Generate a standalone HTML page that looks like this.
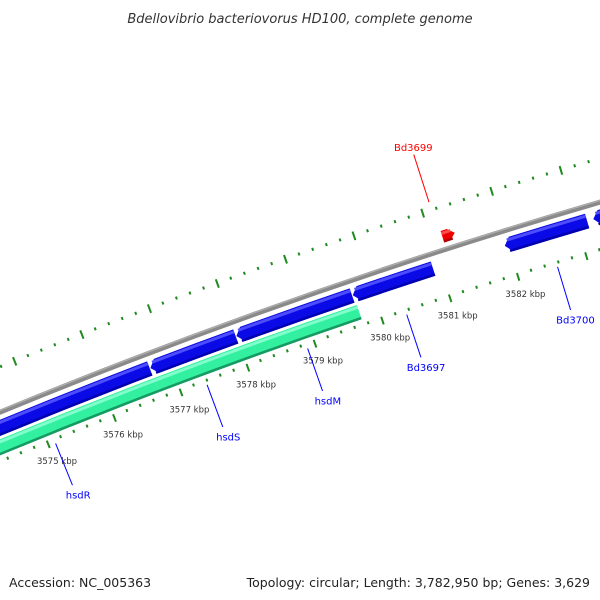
<!DOCTYPE html>
<html><head><meta charset="utf-8"><style>
body{margin:0;background:#fff}
svg{display:block;font-family:"DejaVu Sans","Liberation Sans",sans-serif}
</style></head><body>
<svg id="map" width="600" height="600" viewBox="0 0 600 600">
<text x="300" y="23" text-anchor="middle" font-size="13" font-style="italic" fill="#333">Bdellovibrio bacteriovorus HD100, complete genome</text>
<g id="plot"></g>
<text x="9" y="587" font-size="12.5" fill="#222">Accession: NC_005363</text>
<text x="590" y="587" text-anchor="end" font-size="12.5" fill="#222">Topology: circular; Length: 3,782,950 bp; Genes: 3,629</text>
</svg>
<script>
// data (kbp)
const geneNames = ["gene-left","hsdS-gene","hsdM-gene","Bd3697","Bd3700","gene-right","hsdR-fwd","hsdS-fwd","Bd3699"];
const geneStarts = [3573.0,3576.72,3578.0,3579.72,3581.95,3583.24,3573.0,3576.72,3581.16];
const geneEnds   = [3576.71,3577.99,3579.71,3580.90,3583.15,3585.0,3576.72,3579.73,3581.34];
const geneLane   = ["blue","blue","blue","blue","blue","blue","green","green","red"];
const geneArrow  = ["none","left","left","left","left","left","none","none","right"];
const tickStart = 3573, tickEnd = 3585, tickStep = 0.2;
const tickLabelKbp = [3575,3576,3577,3578,3579,3580,3581,3582];
const calloutNames = ["hsdR","hsdS","hsdM","Bd3697","Bd3700","Bd3699"];
const calloutKbp = [3575.1,3577.38,3578.88,3580.35,3582.57,3581.13];
const calloutColor = ["#0000ff","#0000ff","#0000ff","#0000ff","#0000ff","#ff0000"];
const calloutSide = ["in","in","in","in","in","out"];

const CX=2263, CY=5915, K0=3575, A0=-112.04, DEG=0.692;
const NS="http://www.w3.org/2000/svg";
const plot=document.getElementById('plot');
function ang(k){return (A0+(k-K0)*DEG)*Math.PI/180;}
function pt(k,r){const a=ang(k);return [CX+r*Math.cos(a),CY+r*Math.sin(a)];}
function f(p){return p[0].toFixed(2)+","+p[1].toFixed(2);}
function mk(tag,attrs){const e=document.createElementNS(NS,tag);for(const k in attrs)e.setAttribute(k,attrs[k]);plot.appendChild(e);return e;}
function band(k1,k2,r1,r2){
  const a=pt(k1,r2),b=pt(k2,r2),c=pt(k2,r1),d=pt(k1,r1);
  return "M"+f(a)+" A"+r2+","+r2+" 0 0 1 "+f(b)+" L"+f(c)+" A"+r1+","+r1+" 0 0 0 "+f(d)+"Z";
}
function arcLine(k1,k2,r){return "M"+f(pt(k1,r))+" A"+r+","+r+" 0 0 1 "+f(pt(k2,r));}
function feature(k1,k2,r1,r2,arrow){
  const head=0.09, mid=(r1+r2)/2;
  if(arrow==="left"){
    const a=pt(k1+head,r2),b=pt(k2,r2),c=pt(k2,r1),d=pt(k1+head,r1),t=pt(k1,mid);
    return "M"+f(t)+" L"+f(a)+" A"+r2+","+r2+" 0 0 1 "+f(b)+" L"+f(c)+" A"+r1+","+r1+" 0 0 0 "+f(d)+"Z";
  }
  if(arrow==="right"){
    const a=pt(k1,r2),b=pt(k2-head,r2),t=pt(k2,mid),c=pt(k2-head,r1),d=pt(k1,r1);
    return "M"+f(a)+" A"+r2+","+r2+" 0 0 1 "+f(b)+" L"+f(t)+" L"+f(c)+" A"+r1+","+r1+" 0 0 0 "+f(d)+"Z";
  }
  return band(k1,k2,r1,r2);
}
// ticks
const nT=Math.round((tickEnd-tickStart)/tickStep);
for(let i=0;i<=nT;i++){
  const k=tickStart+i*tickStep, major=(i%5===0);
  const u1=pt(k,major?5996:5993.5), u2=pt(k,major?5987:5990.5);
  const t=mk('line',{x1:u1[0],y1:u1[1],x2:u2[0],y2:u2[1],stroke:"#1f8a1f","stroke-width":2});
  
  
  const l1=pt(k,5906), l2=pt(k,major?5898:5903);
  const t2=mk('line',{x1:l1[0],y1:l1[1],x2:l2[0],y2:l2[1],stroke:"#1f8a1f","stroke-width":2});
  
  
}
tickLabelKbp.forEach(k=>{
  const p=pt(k,5884);
  const t=mk('text',{x:p[0]+2,y:p[1]+3,"font-size":"8.5","text-anchor":"middle",fill:"#333"});
  t.textContent=k+" kbp";
  
  
});
// backbone
let g=mk('path',{d:arcLine(3572,3586,5950),stroke:"#8a8a8a","stroke-width":5,fill:"none"});


g=mk('path',{d:arcLine(3572,3586,5951.5),stroke:"#b0b0b0","stroke-width":1.2,fill:"none"});


// genes
const laneR={blue:[5928,5943],green:[5910,5925],red:[5957,5969]};
const laneCol={blue:["#0a0ae6","#4d4dff","#0000b0"],green:["#33f0a0","#80ffcc","#179a62"],red:["#ee0000","#ff4d4d","#b00000"]};
for(let i=0;i<geneStarts.length;i++){
  const [r1,r2]=laneR[geneLane[i]], c=laneCol[geneLane[i]];
  const p=mk('path',{d:feature(geneStarts[i],geneEnds[i],r1,r2,geneArrow[i]),fill:c[0]});
  
  
  const hl=mk('path',{d:feature(geneStarts[i]+(geneArrow[i]==="left"?0.05:0),geneEnds[i]-(geneArrow[i]==="right"?0.05:0),r2-4,r2-1,"none"),fill:c[1]});
  
  
  const sh=mk('path',{d:feature(geneStarts[i]+(geneArrow[i]==="left"?0.05:0),geneEnds[i]-(geneArrow[i]==="right"?0.05:0),r1,r1+2.5,"none"),fill:c[2]});
  
  
}
// callouts
for(let i=0;i<calloutNames.length;i++){
  const k=calloutKbp[i];
  let p1,p2,pl;
  if(calloutSide[i]==="in"){p1=pt(k,5900);p2=pt(k,5855);pl=pt(k,5845);}
  else{p1=pt(k,6000);p2=pt(k,6050);pl=pt(k,6058);}
  const ln=mk('line',{x1:p1[0],y1:p1[1],x2:p2[0],y2:p2[1],stroke:calloutColor[i],"stroke-width":1});
  
  
  const t=mk('text',{x:pl[0]+2,y:pl[1]+4,"font-size":"10","text-anchor":"middle",fill:calloutColor[i]});
  t.textContent=calloutNames[i];
  
  
}
</script>
</body></html>
